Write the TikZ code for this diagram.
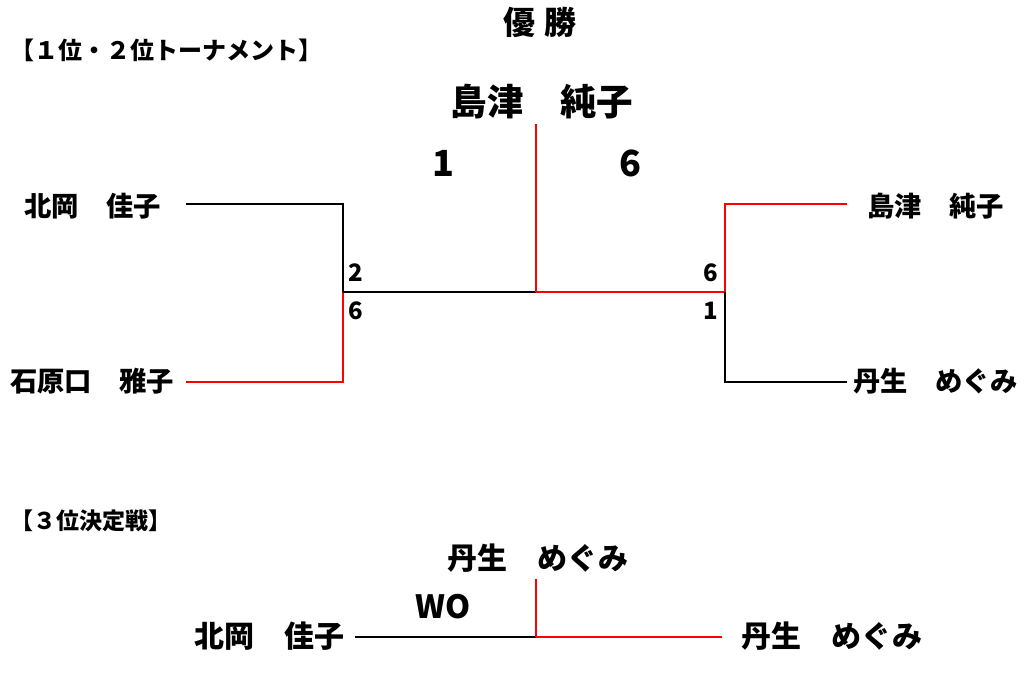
\documentclass[tikz,border=0pt]{standalone}
\usepackage{fontspec}
\setmainfont{Noto Sans CJK JP}
\tikzset{
  lbl/.style={inner sep=0pt, font=\bfseries},
  nm/.style={lbl, anchor=west, font=\fontsize{27.3}{27.3}\selectfont\bfseries},
  nmb/.style={lbl, anchor=west, font=\fontsize{30}{30}\selectfont\bfseries},
  hd/.style={lbl, anchor=west, font=\fontsize{23}{23}\selectfont\bfseries},
  sc/.style={lbl, font=\fontsize{24}{24}\selectfont\bfseries},
  bigsc/.style={lbl, font=\fontsize{36}{36}\selectfont\bfseries},
  lose/.style={draw=black, line width=1.6pt},
  win/.style={draw=red, line width=1.6pt},
}
\begin{document}
\begin{tikzpicture}[x=1pt,y=-1pt]
\useasboundingbox (0,0) rectangle (1024,673);
% titles
\node[lbl, font=\fontsize{32}{32}\selectfont\bfseries] (title) at (540,22) {優\kern 10pt 勝};
\node[hd, font=\fontsize{24}{24}\selectfont\bfseries] (h1) at (10,50) {【１位・２位トーナメント】};
\node[hd] (h2) at (10,521) {【３位決定戦】};
% top bracket
\node[lbl, font=\fontsize{36.5}{36.5}\selectfont\bfseries] (champ) at (542,102) {島津　純子};
\node[bigsc] (s1) at (443,163) {1};
\node[bigsc] (s2) at (630,163) {6};
\node[nm] (kita) at (24,206) {北岡　佳子};
\node[nm] (ishi) at (10,381) {石原口　雅子};
\node[nm] (shim) at (867,206) {島津　純子};
\node[nm] (nyu) at (853,381) {丹生　めぐみ};
\node[sc] (a2) at (356,273) {2};
\node[sc] (a6) at (356,311) {6};
\node[sc] (b6) at (711,273) {6};
\node[sc] (b1) at (711,311) {1};
\coordinate (L1) at (186,204);
\coordinate (L2) at (186,382);
\coordinate (LJ) at (343,292);
\coordinate (C) at (536,292);
\coordinate (CT) at (536,124);
\coordinate (RJ) at (725,292);
\coordinate (R1) at (847,204);
\coordinate (R2) at (847,382);
\draw[lose] (L1) -| (LJ);
\draw[win] (L2) -| (LJ);
\draw[lose] (LJ) -- (C);
\draw[win] (C) -- (RJ);
\draw[win] (C) -- (CT);
\draw[win] (R1) -| (RJ);
\draw[lose] (R2) -| (RJ);
% third place
\node[nmb] (w3) at (447,558) {丹生　めぐみ};
\node[lbl, font=\fontsize{32}{32}\selectfont\bfseries] (wo) at (443,607) {WO};
\node[nmb] (k3) at (194,636) {北岡　佳子};
\node[nmb] (n3) at (741,636) {丹生　めぐみ};
\coordinate (P1) at (355,637);
\coordinate (PC) at (536,637);
\coordinate (PT) at (536,579);
\coordinate (P2) at (722,637);
\draw[lose] (P1) -- (PC);
\draw[win] (PC) -- (P2);
\draw[win] (PC) -- (PT);
\end{tikzpicture}
\end{document}
